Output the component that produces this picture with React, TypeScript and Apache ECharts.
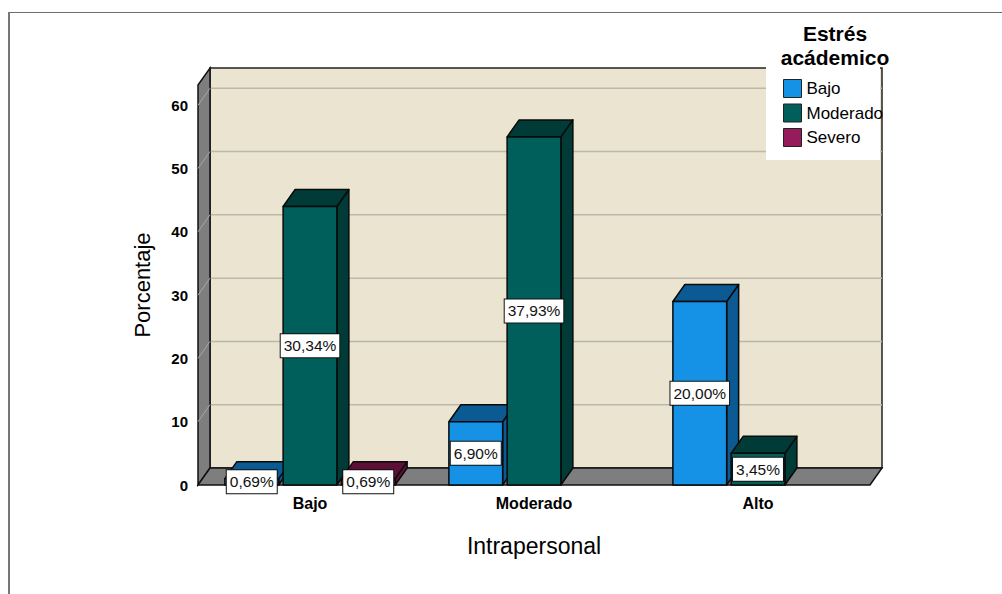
import React, { useEffect, useRef } from "react";
import * as echarts from "echarts";

const categories = ["Bajo", "Moderado", "Alto"];
const seriesNames = ["Bajo", "Moderado", "Severo"];
// bar heights (counts) per Estrés level, one value per Intrapersonal category
const bajoValues = [1, 10, 29];
const moderadoValues = [44, 55, 5];
const severoValues = [1, 0, 0];
// labels shown on the bars
const bajoLabels = ["0,69%", "6,90%", "20,00%"];
const moderadoLabels = ["30,34%", "37,93%", "3,45%"];
const severoLabels = ["0,69%", "", ""];
const yTicks = [10, 20, 30, 40, 50, 60];
const yMax = 63.2;

const frontColors = ["#1591E6", "#005E5B", "#951B5A"];
const darkColors = ["#0B5A94", "#003B37", "#5E0F36"];

const DX = 12;
const DY = -17;
const FONT = '"Liberation Sans", Arial, sans-serif';

export default function App() {
  const ref = useRef<HTMLDivElement>(null);
  useEffect(() => {
    if (!ref.current) return;
    const chart = echarts.init(ref.current, undefined, { renderer: "svg" });

    const values = [bajoValues, moderadoValues, severoValues];
    const labels = [bajoLabels, moderadoLabels, severoLabels];

    const wallSeries: any = {
      type: "custom",
      name: "wall",
      z: 1,
      silent: true,
      data: [[0, 0]],
      renderItem: (params: any, api: any) => {
        const c0 = api.coord([0, 0]);
        const bw = api.size([1, 0])[0];
        const x0 = c0[0] - bw / 2;
        const x1 = x0 + bw * categories.length;
        const y0 = c0[1];
        const yT = api.coord([0, yMax])[1];
        const children: any[] = [];
        children.push({
          type: "rect",
          shape: { x: x0 + DX, y: yT + DY, width: x1 - x0, height: y0 - yT },
          style: { fill: "#EAE4D0", stroke: "#222", lineWidth: 1.5 },
        });
        yTicks.forEach((t) => {
          const yy = api.coord([0, t])[1];
          children.push({
            type: "line",
            shape: { x1: x0 + DX, y1: yy + DY, x2: x1 + DX, y2: yy + DY },
            style: { stroke: "#BCB7AB", lineWidth: 1.5 },
          });
        });
        children.push({
          type: "polygon",
          shape: {
            points: [
              [x0, y0],
              [x0, yT],
              [x0 + DX, yT + DY],
              [x0 + DX, y0 + DY],
            ],
          },
          style: { fill: "#7E7E7E", stroke: "#111", lineWidth: 1.5 },
        });
        yTicks.forEach((t) => {
          const yy = api.coord([0, t])[1];
          children.push({
            type: "line",
            shape: { x1: x0, y1: yy, x2: x0 + DX, y2: yy + DY },
            style: { stroke: "#A8A8A8", lineWidth: 1 },
          });
        });
        children.push({
          type: "polygon",
          shape: {
            points: [
              [x0, y0],
              [x1, y0],
              [x1 + DX, y0 + DY],
              [x0 + DX, y0 + DY],
            ],
          },
          style: { fill: "#7E7E7E", stroke: "#111", lineWidth: 1.5 },
        });
        return { type: "group", children };
      },
    };

    const barSeries = seriesNames.map((name, k) => ({
      type: "custom",
      name,
      z: 2 + k,
      itemStyle: { color: frontColors[k] },
      data: categories.map((_, i) => [i, values[k][i]]),
      renderItem: (params: any, api: any) => {
        const cat = api.value(0);
        const v = api.value(1);
        if (!(v > 0)) return null;
        const base = api.coord([cat, 0]);
        const top = api.coord([cat, v]);
        const bw = api.size([1, 0])[0];
        const step = bw * 0.26;
        const w = bw * 0.24;
        const cx = base[0] + (k - 1) * step;
        const x = cx - w / 2;
        const yb = base[1];
        const yt = top[1];
        const stroke = { stroke: "#0A0A0A", lineWidth: 1.5, lineJoin: "round" };
        const label = labels[k][cat];
        const children: any[] = [
          {
            type: "polygon",
            shape: {
              points: [
                [x + w, yt],
                [x + w + DX, yt + DY],
                [x + w + DX, yb + DY],
                [x + w, yb],
              ],
            },
            style: { fill: darkColors[k], ...stroke },
          },
          {
            type: "polygon",
            shape: {
              points: [
                [x, yt],
                [x + DX, yt + DY],
                [x + w + DX, yt + DY],
                [x + w, yt],
              ],
            },
            style: { fill: darkColors[k], ...stroke },
          },
          {
            type: "rect",
            shape: { x, y: yt, width: w, height: yb - yt },
            style: { fill: frontColors[k], ...stroke },
          },
        ];
        if (label) {
          children.push({
            type: "text",
            x: cx,
            y: (yt + yb) / 2,
            z2: 20,
            style: {
              text: label,
              align: "center",
              verticalAlign: "middle",
              fill: "#111",
              fontSize: 15.5,
              fontFamily: FONT,
              backgroundColor: "#ffffff",
              borderColor: "#111",
              borderWidth: 1,
              padding: [4, 3, 3, 3],
            },
          });
        }
        return { type: "group", children };
      },
    }));

    chart.setOption({
      animation: false,
      backgroundColor: "#ffffff",
      grid: { left: 198, right: 132, top: 85, bottom: 109, containLabel: false },
      xAxis: {
        type: "category",
        data: categories,
        axisLine: { show: false },
        axisTick: { show: false },
        axisLabel: {
          margin: 10,
          color: "#000",
          fontWeight: "bold",
          fontSize: 16,
          fontFamily: FONT,
        },
        name: "Intrapersonal",
        nameLocation: "middle",
        nameGap: 49,
        nameTextStyle: { fontSize: 23, color: "#000", fontFamily: FONT },
      },
      yAxis: {
        type: "value",
        min: 0,
        max: yMax,
        interval: 10,
        axisLine: { show: false },
        axisTick: { show: false },
        splitLine: { show: false },
        axisLabel: {
          margin: 10,
          showMaxLabel: false,
          color: "#000",
          fontWeight: "bold",
          fontSize: 15,
          fontFamily: FONT,
        },
        name: "Porcentaje",
        nameLocation: "middle",
        nameGap: 45,
        nameRotate: 90,
        nameTextStyle: { fontSize: 22, color: "#000", fontFamily: FONT },
      },
      legend: {
        data: seriesNames,
        orient: "vertical",
        left: 783,
        top: 79,
        itemWidth: 18,
        itemHeight: 18,
        itemGap: 5.5,
        icon: "rect",
        z: 10,
        padding: 0,
        itemStyle: { borderColor: "#222", borderWidth: 1 },
        textStyle: { fontSize: 17, color: "#000", fontFamily: FONT },
        selectedMode: false,
      },
      graphic: {
        elements: [
          {
            type: "line",
            z: 0,
            shape: { x1: 8, y1: 12.5, x2: 1002, y2: 12.5 },
            style: { stroke: "#6E6E6E", lineWidth: 1 },
          },
          {
            type: "line",
            z: 0,
            shape: { x1: 9, y1: 12, x2: 9, y2: 594 },
            style: { stroke: "#777777", lineWidth: 2 },
          },
          {
            type: "rect",
            z: 8,
            shape: { x: 766, y: 13, width: 114, height: 147 },
            style: { fill: "#ffffff" },
          },
          {
            type: "text",
            z: 9,
            x: 835,
            y: 21,
            style: {
              text: "Estrés\nacádemico",
              align: "center",
              verticalAlign: "top",
              fontSize: 21,
              fontWeight: "bold",
              lineHeight: 24,
              fill: "#000",
              fontFamily: FONT,
            },
          },
        ],
      },
      series: [wallSeries, ...barSeries],
    });

    return () => chart.dispose();
  }, []);

  return (
    <div
      ref={ref}
      style={{ position: "absolute", left: 0, top: 0, width: 1002, height: 594 }}
    />
  );
}
